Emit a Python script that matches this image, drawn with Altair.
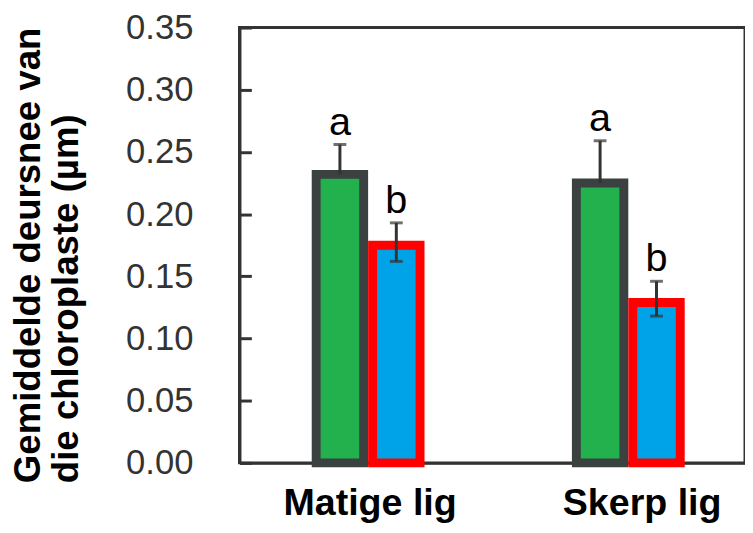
import altair as alt
import pandas as pd

groups = ["Matige lig", "Skerp lig"]
series = ["Reeks 1", "Reeks 2"]
green_mean = [0.232, 0.225]
blue_mean = [0.175, 0.129]
green_err_hi = [0.024, 0.034]
blue_err_hi = [0.018, 0.017]
blue_err_lo = [0.013, 0.011]
green_letters = ["a", "a"]
blue_letters = ["b", "b"]
y_ticks = [0.00, 0.05, 0.10, 0.15, 0.20, 0.25, 0.30, 0.35]
y_title = ["Gemiddelde deursnee van", "die chloroplaste (µm)"]

rows = []
for i, g in enumerate(groups):
    rows.append(dict(group=g, series=series[0], mean=green_mean[i],
                     hi=green_mean[i] + green_err_hi[i], lo=green_mean[i],
                     letter=green_letters[i]))
    rows.append(dict(group=g, series=series[1], mean=blue_mean[i],
                     hi=blue_mean[i] + blue_err_hi[i], lo=blue_mean[i] - blue_err_lo[i],
                     letter=blue_letters[i]))
df = pd.DataFrame(rows)
low_df = df[df["lo"] < df["mean"]]

FONT = "Arial"
LINE = "#333333"
W = 511

x_scale = alt.Scale(domain=groups, paddingInner=0.5665, paddingOuter=0.2547, align=0.545)
xo_scale = alt.Scale(domain=series, paddingInner=0.158, paddingOuter=0.079)
y_scale = alt.Scale(domain=[0, 0.35], nice=False, zero=True)

X = alt.X("group:N", scale=x_scale, sort=groups,
          axis=alt.Axis(title=None, labelAngle=0, labelFontSize=38, labelFont=FONT,
                        labelFontWeight="bold", labelColor="#000000", labelPadding=52,
                        labelBaseline="alphabetic", ticks=False, tickSize=0,
                        domainColor=LINE, domainWidth=3, grid=False,
                        labelOffset=alt.condition("datum.value == 'Skerp lig'",
                                                  alt.value(14), alt.value(2))))
XO = alt.XOffset("series:N", scale=xo_scale, sort=series)

# inward tick marks: grid lines dashed so that only their first 12 px show
main_axis = alt.Axis(title=y_title, values=y_ticks, format=".2f", orient="left",
                     ticks=False, tickSize=0, grid=True, gridDash=[12, 2000],
                     gridWidth=3, gridColor=LINE, gridOpacity=1,
                     labelPadding=47, labelFontSize=35, labelFont=FONT,
                     labelColor="#333333", domain=True, domainColor=LINE, domainWidth=3,
                     titleFont=FONT, titleFontSize=37, titleFontWeight="bold",
                     titleColor="#000000", titleAngle=270, titleAlign="left",
                     titleBaseline="top", titleX=-231, titleY=460,
                     titleLineHeight=38)

base = alt.Chart(df)

bars = base.mark_bar(strokeWidth=9).encode(
    x=X, xOffset=XO,
    y=alt.Y("mean:Q", scale=y_scale, axis=main_axis),
    fill=alt.Fill("series:N", scale=alt.Scale(domain=series, range=["#22B14C", "#00A2E8"]), legend=None),
    stroke=alt.Stroke("series:N", scale=alt.Scale(domain=series, range=["#3B4040", "#FF0000"]), legend=None),
)

err_line = base.mark_rule(color=LINE, strokeWidth=3).encode(
    x=X, xOffset=XO,
    y=alt.Y("lo:Q", scale=y_scale, axis=main_axis), y2="hi:Q",
)

caps_hi = base.mark_tick(color=LINE, thickness=3, size=13, orient="horizontal").encode(
    x=X, xOffset=XO, y=alt.Y("hi:Q", scale=y_scale, axis=main_axis),
)

caps_lo = alt.Chart(low_df).mark_tick(color=LINE, thickness=3, size=13, orient="horizontal").encode(
    x=X, xOffset=XO, y=alt.Y("lo:Q", scale=y_scale, axis=main_axis),
)

letters = base.mark_text(fontSize=40, font=FONT, baseline="alphabetic", dy=-10, color="#000000").encode(
    x=X, xOffset=XO, y=alt.Y("hi:Q", scale=y_scale, axis=main_axis), text="letter:N",
)

chart = alt.layer(bars, err_line, caps_hi, caps_lo, letters).properties(
    width=W, height=440,
    autosize=alt.AutoSizeParams(type="none"),
    padding={"left": 234, "top": 17, "right": 0, "bottom": 60},
    background="white",
).configure_view(stroke=LINE, strokeWidth=3)

chart.save("out.html", embed_options={"renderer": "svg", "actions": False})
